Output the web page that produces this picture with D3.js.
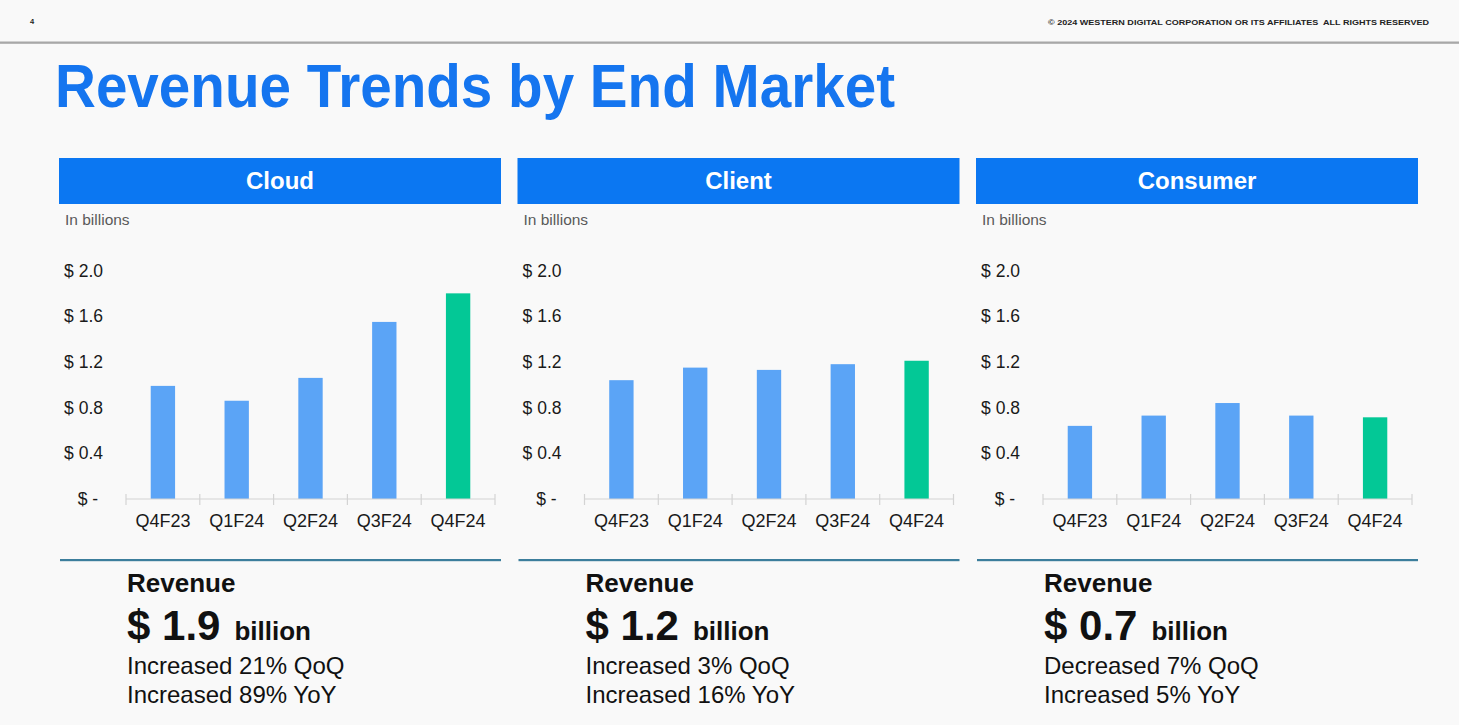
<!DOCTYPE html>
<html>
<head>
<meta charset="utf-8">
<script src="https://cdn.jsdelivr.net/npm/d3@7"></script>
<style>
  html, body { margin: 0; padding: 0; background: #f9f9f9; }
  svg { display: block; font-family: "Liberation Sans", Arial, sans-serif; }
</style>
</head>
<body>
<svg id="chart" width="1459" height="725"></svg>
<script>
// ---------- data ----------
const categories = ["Q4F23", "Q1F24", "Q2F24", "Q3F24", "Q4F24"];
const segments = ["Cloud", "Client", "Consumer"];
const cloudValues = [0.99, 0.86, 1.06, 1.55, 1.80];
const clientValues = [1.04, 1.15, 1.13, 1.18, 1.21];
const consumerValues = [0.64, 0.73, 0.84, 0.73, 0.715];
const yTicks = [0, 0.4, 0.8, 1.2, 1.6, 2.0];
const revenueTotals = ["1.9", "1.2", "0.7"];
const qoqTexts = ["Increased 21% QoQ", "Increased 3% QoQ", "Decreased 7% QoQ"];
const yoyTexts = ["Increased 89% YoY", "Increased 16% YoY", "Increased 5% YoY"];
const pageNumber = "4";
const copyrightText = "\u00A9 2024 WESTERN DIGITAL CORPORATION OR ITS AFFILIATES  ALL RIGHTS RESERVED";
const titleText = "Revenue Trends by End Market";

const seriesBySegment = [cloudValues, clientValues, consumerValues];

// ---------- styles ----------
const blueHeader = "#0b77f2";
const barBlue = "#5ba4f6";
const barGreen = "#03c896";
const ruleColor = "#3c7e9c";

const svg = d3.select("#chart");

// background
svg.append("rect").attr("width", 1459).attr("height", 725).attr("fill", "#f9f9f9");

// top strip
svg.append("text").attr("x", 30).attr("y", 24)
  .attr("font-size", 7.5).attr("font-weight", "bold").attr("fill", "#222")
  .text(pageNumber);
svg.append("text").attr("x", 1429).attr("y", 25)
  .attr("text-anchor", "end")
  .attr("font-size", 7.5).attr("font-weight", "bold").attr("fill", "#222")
  .attr("textLength", 381).attr("lengthAdjust", "spacingAndGlyphs")
  .style("white-space", "pre")
  .text(copyrightText);
svg.append("rect").attr("x", 0).attr("y", 41.5).attr("width", 1459).attr("height", 2.3)
  .attr("fill", "#a8a8a8");

// title
svg.append("text").attr("x", 55).attr("y", 107)
  .attr("font-size", 61).attr("font-weight", "bold").attr("fill", "#1575ef")
  .attr("textLength", 840).attr("lengthAdjust", "spacingAndGlyphs")
  .text(titleText);

const panelStep = 458.5;
const y = d3.scaleLinear().domain([0, 2]).range([499, 270.5]);

segments.forEach((seg, i) => {
  const x0 = 59 + i * panelStep;
  const g = svg.append("g");

  // header bar
  g.append("rect").attr("x", x0).attr("y", 158).attr("width", 442).attr("height", 46)
    .attr("fill", blueHeader);
  g.append("text").attr("x", x0 + 221).attr("y", 189)
    .attr("text-anchor", "middle").attr("font-size", 24).attr("font-weight", "bold")
    .attr("fill", "#ffffff").text(seg);

  g.append("text").attr("x", x0 + 6).attr("y", 225)
    .attr("font-size", 15.5).attr("fill", "#595959").text("In billions");

  // scales
  const x = d3.scaleBand().domain(categories)
    .range([x0 + 67, x0 + 436])
    .paddingInner(0.67).paddingOuter(0.335);

  // y axis labels
  const yAxis = d3.axisLeft(y).tickValues(yTicks).tickSize(0).tickPadding(0)
    .tickFormat(d => d === 0 ? "$ -\u00A0" : "$ " + d.toFixed(1));
  const yg = g.append("g").attr("transform", `translate(${x0 + 44},0)`).call(yAxis);
  yg.select(".domain").remove();
  yg.selectAll("text").attr("font-size", 17.5).attr("fill", "#1a1a1a")
    .attr("font-family", "'Liberation Sans', Arial, sans-serif");

  // bars
  const vals = seriesBySegment[i];
  g.selectAll("rect.bar").data(categories).enter().append("rect")
    .attr("class", "bar")
    .attr("x", d => x(d))
    .attr("width", x.bandwidth())
    .attr("y", (d, j) => y(vals[j]))
    .attr("height", (d, j) => y(0) - y(vals[j]))
    .attr("fill", (d, j) => j === categories.length - 1 ? barGreen : barBlue);

  // x axis
  const [r0, r1] = x.range();
  g.append("line").attr("x1", r0).attr("x2", r1).attr("y1", y(0)).attr("y2", y(0))
    .attr("stroke", "#d4d4d4").attr("stroke-width", 1.2);
  const bounds = d3.range(categories.length + 1).map(k => r0 + k * x.step());
  g.selectAll("line.tick").data(bounds).enter().append("line")
    .attr("class", "tick")
    .attr("x1", d => d).attr("x2", d => d)
    .attr("y1", y(0) - 5).attr("y2", y(0) + 6)
    .attr("stroke", "#d4d4d4").attr("stroke-width", 1.2);

  const xAxis = d3.axisBottom(x).tickSize(0).tickPadding(15);
  const xg = g.append("g").attr("transform", `translate(0,${y(0)})`).call(xAxis);
  xg.select(".domain").remove();
  xg.selectAll("text").attr("font-size", 18).attr("fill", "#1a1a1a")
    .attr("font-family", "'Liberation Sans', Arial, sans-serif");

  // bottom summary
  g.append("rect").attr("x", x0 + 1).attr("y", 559).attr("width", 441).attr("height", 2.2)
    .attr("fill", ruleColor);
  const tx = x0 + 68;
  g.append("text").attr("x", tx).attr("y", 592)
    .attr("font-size", 26).attr("font-weight", "bold").attr("fill", "#111")
    .text("Revenue");
  const big = g.append("text").attr("x", tx).attr("y", 640)
    .attr("font-weight", "bold").attr("fill", "#111");
  big.append("tspan").attr("font-size", 42).text("$ " + revenueTotals[i]);
  big.append("tspan").attr("font-size", 26).attr("dx", 14).text("billion");
  g.append("text").attr("x", tx).attr("y", 674)
    .attr("font-size", 24).attr("fill", "#111").text(qoqTexts[i]);
  g.append("text").attr("x", tx).attr("y", 703)
    .attr("font-size", 24).attr("fill", "#111").text(yoyTexts[i]);
});
</script>
</body>
</html>
